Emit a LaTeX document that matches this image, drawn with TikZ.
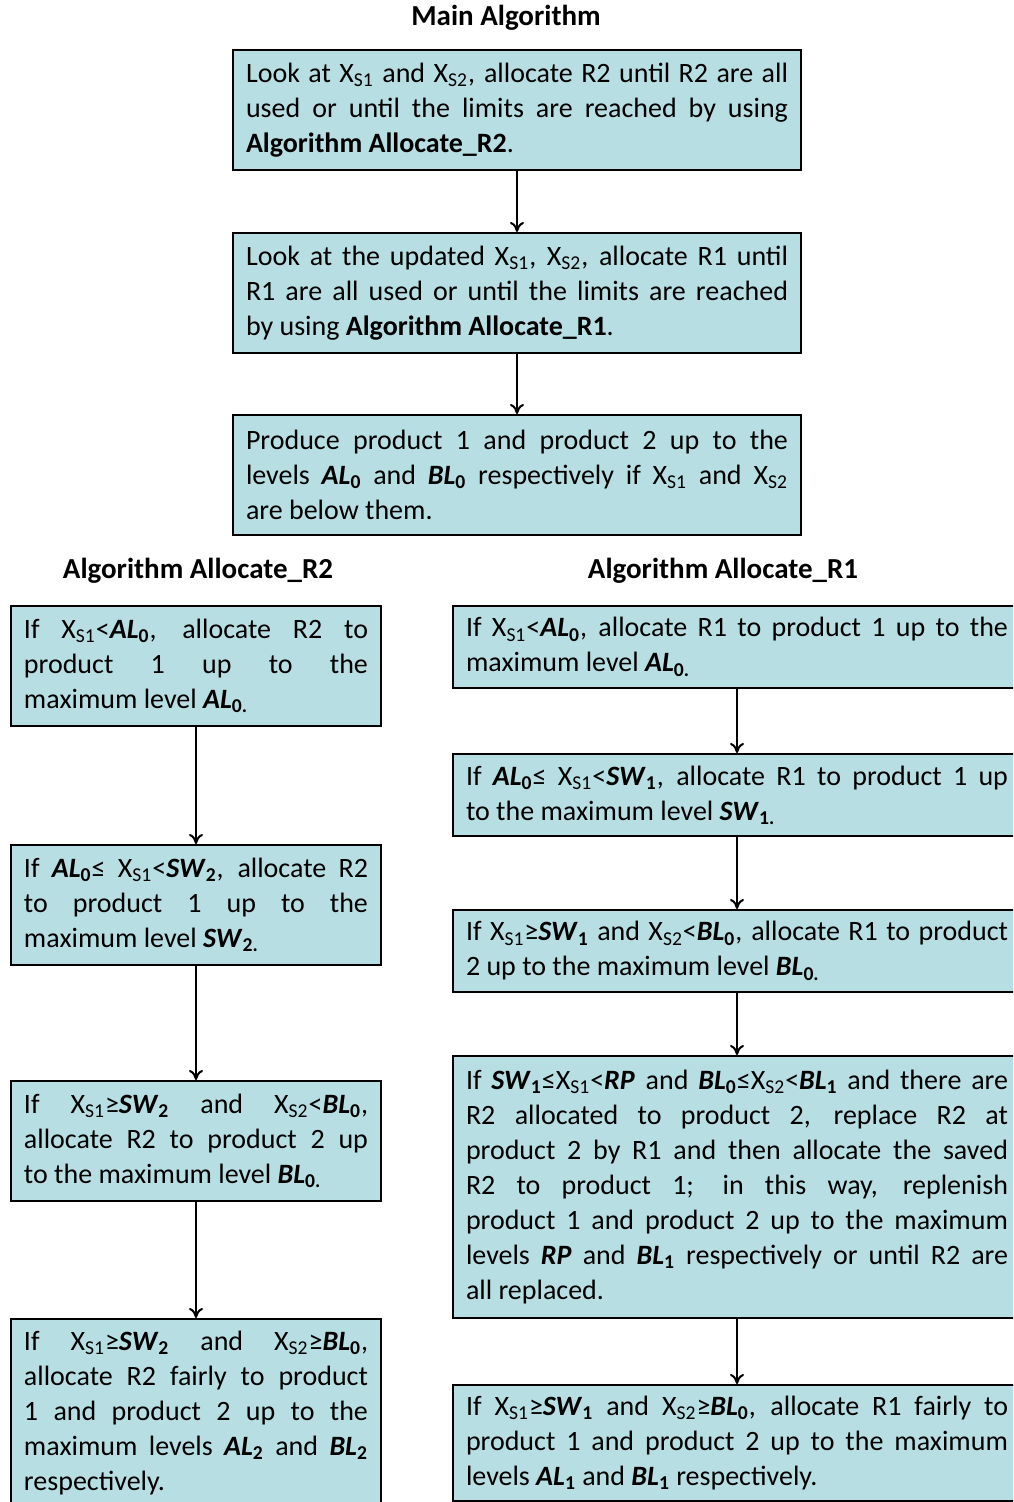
\documentclass[tikz,border=0pt]{standalone}
\usepackage{fontspec}
\setmainfont{Carlito}
\usepackage{xcolor}
\usepackage{tikz}
\usetikzlibrary{positioning,arrows.meta}
\definecolor{boxFill}{RGB}{183,222,226}
\tikzstyle{arrow} = [draw, -{To[length=5pt,width=7pt]}, line width=1pt]
\tikzstyle{stepBlock} = [draw, rectangle, fill=boxFill, line width=1pt,
    align=justify, inner xsep=6.5pt, inner ysep=4pt,
    font=\fontsize{14}{17.5}\selectfont]
\tikzstyle{mainBlock} = [stepBlock, text width=271pt, minimum height=60pt]
\tikzstyle{leftBlock} = [stepBlock, text width=172pt, minimum height=60pt]
\tikzstyle{rightBlock} = [stepBlock, text width=271pt, minimum height=41pt]
\tikzstyle{titleText} = [font=\fontsize{14.5}{17}\selectfont\bfseries]
\newcommand{\xs}[1]{X\textsubscript{S#1}}
\newcommand{\lvl}[2]{\textbf{\textit{#1}\textsubscript{#2}}}

\begin{document}
\begin{tikzpicture}[x=0.5pt, y=-0.5pt]
      \useasboundingbox (0,0) rectangle (1013,1502);
      \clip (0,0) rectangle (1013,1502);

      % Titles
      \node [titleText] (mainTitle) at (506,18) {Main Algorithm};
      \node [titleText] (titleR2) at (198,571) {Algorithm Allocate\_R2};
      \node [titleText] (titleR1) at (723,571) {Algorithm Allocate\_R1};

      % Main algorithm
      \node [mainBlock, anchor=north] (main1) at (517,49) {Look at \xs1 and \xs2, allocate R2 until R2 are all\linebreak
        used or until the limits are reached by using\linebreak
        \textbf{Algorithm Allocate\_R2}.};
      \node [mainBlock, below=30.5pt of main1] (main2) {Look at the updated \xs1, \xs2, allocate R1 until\linebreak
        R1 are all used or until the limits are reached\linebreak
        by using \textbf{Algorithm Allocate\_R1}.};
      \node [mainBlock, below=30pt of main2] (main3) {Produce product 1 and product 2 up to the\linebreak
        levels \lvl{AL}{0} and \lvl{BL}{0} respectively if \xs1 and \xs2\linebreak
        are below them.};

      % Algorithm Allocate_R2
      \node [leftBlock, anchor=north west] (left1) at (10,605) {If \xs1<\lvl{AL}{0}, allocate R2 to\linebreak
        product 1 up to the\linebreak
        maximum level \lvl{AL}{0.}};
      \node [leftBlock, below=58.5pt of left1] (left2) {If \lvl{AL}{0}≤ \xs1<\lvl{SW}{2}, allocate R2\linebreak
        to product 1 up to the\linebreak
        maximum level \lvl{SW}{2.}};
      \node [leftBlock, below=57pt of left2] (left3) {If \xs1≥\lvl{SW}{2} and \xs2<\lvl{BL}{0},\linebreak
        allocate R2 to product 2 up\linebreak
        to the maximum level \lvl{BL}{0.}};
      \node [leftBlock, below=58pt of left3, minimum height=94pt] (left4) {If \xs1≥\lvl{SW}{2} and \xs2≥\lvl{BL}{0},\linebreak
        allocate R2 fairly to product\linebreak
        1 and product 2 up to the\linebreak
        maximum levels \lvl{AL}{2} and \lvl{BL}{2}\linebreak
        respectively.};

      % Algorithm Allocate_R1
      \node [rightBlock, anchor=north west] (right1) at (452,605) {If \xs1<\lvl{AL}{0}, allocate R1 to product 1 up to the\linebreak
        maximum level \lvl{AL}{0.}};
      \node [rightBlock, below=32pt of right1] (right2) {If \lvl{AL}{0}≤ \xs1<\lvl{SW}{1}, allocate R1 to product 1 up\linebreak
        to the maximum level \lvl{SW}{1.}};
      \node [rightBlock, below=36pt of right2] (right3) {If \xs1≥\lvl{SW}{1} and \xs2<\lvl{BL}{0}, allocate R1 to product\linebreak
        2 up to the maximum level \lvl{BL}{0.}};
      \node [rightBlock, below=31pt of right3, minimum height=131pt] (right4) {If \lvl{SW}{1}≤\xs1<\lvl{RP}{} and \lvl{BL}{0}≤\xs2<\lvl{BL}{1} and there are\linebreak
        R2 allocated to product 2, replace R2 at\linebreak
        product 2 by R1 and then allocate the saved\linebreak
        R2 to product 1; in this way, replenish\linebreak
        product 1 and product 2 up to the maximum\linebreak
        levels \textbf{\textit{RP}} and \lvl{BL}{1} respectively or until R2 are\linebreak
        all replaced.};
      \node [rightBlock, below=32.5pt of right4, minimum height=58pt] (right5) {If \xs1≥\lvl{SW}{1} and \xs2≥\lvl{BL}{0}, allocate R1 fairly to\linebreak
        product 1 and product 2 up to the maximum\linebreak
        levels \lvl{AL}{1} and \lvl{BL}{1} respectively.};

      % Connectors
      \path [arrow] (main1) -- (main2);
      \path [arrow] (main2) -- (main3);

      \path [arrow] (left1) -- (left2);
      \path [arrow] (left2) -- (left3);
      \path [arrow] (left3) -- (left4);

      \path [arrow] (right1) -- (right2);
      \path [arrow] (right2) -- (right3);
      \path [arrow] (right3) -- (right4);
      \path [arrow] (right4) -- (right5);

  \end{tikzpicture}
\end{document}
